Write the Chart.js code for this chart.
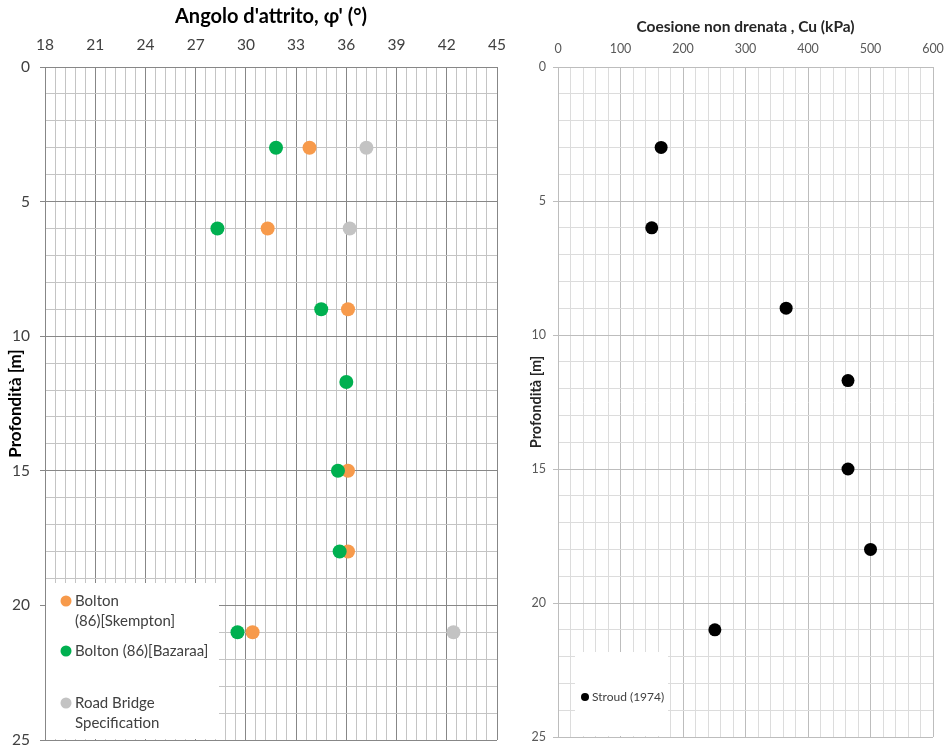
<!DOCTYPE html>
<html>
<head>
<meta charset="utf-8">
<script src="https://cdn.jsdelivr.net/npm/chart.js@4"></script>
<style>
  html, body { margin: 0; padding: 0; background: #fff; }
  #wrap { position: relative; width: 947px; height: 749px; }
  .box { position: absolute; top: 0; height: 749px; }
  #leftBox { left: 0; width: 510px; }
  #rightBox { left: 520px; width: 427px; }
</style>
</head>
<body>
<div id="wrap">
  <div class="box" id="leftBox"><canvas id="attrito"></canvas></div>
  <div class="box" id="rightBox"><canvas id="coesione"></canvas></div>
</div>
<script>
// --- data ---
const depthSkempton = [3, 6, 9, 15, 18, 21];
const phiSkempton   = [33.8, 31.3, 36.1, 36.1, 36.1, 30.4];

const depthBazaraa = [3, 6, 9, 11.7, 15, 18, 21];
const phiBazaraa   = [31.8, 28.3, 34.5, 36.0, 35.5, 35.6, 29.5];

const depthRoad = [3, 6, 21];
const phiRoad   = [37.2, 36.2, 42.4];

const depthStroud = [3, 6, 9, 11.7, 15, 18, 21];
const cuStroud    = [165, 150, 365, 464, 464, 500, 251];

const labelSkempton = ['Bolton', '(86)[Skempton]'];
const labelBazaraa  = ['Bolton (86)[Bazaraa]'];
const labelRoad     = ['Road Bridge', 'Specification'];
const labelStroud   = ['Stroud (1974)'];

const FONT = 'Lato, "Open Sans", "Noto Sans", sans-serif';

function near(v, step) {
  return Math.abs(v / step - Math.round(v / step)) < 1e-6;
}
function pts(xs, ys) {
  return xs.map((x, i) => ({ x: x, y: ys[i] }));
}

// fixed axis boxes, no extra room for the end labels
function fixX(h) {
  return s => { s.height = h; s.paddingLeft = 0; s.paddingRight = 0; };
}
function fixY(w) {
  return s => { s.width = w; s.paddingTop = 0; s.paddingBottom = 0; };
}

// white legend box drawn over the grid, like the excel one
const boxLegend = {
  id: 'boxLegend',
  afterDatasetsDraw(chart, args, opts) {
    const ctx = chart.ctx;
    const a = chart.chartArea;
    ctx.save();
    ctx.fillStyle = '#fff';
    ctx.fillRect(a.left + opts.left, opts.top, opts.width, a.bottom - opts.top - 1);
    ctx.font = opts.fontSize + 'px ' + FONT;
    ctx.textBaseline = 'middle';
    ctx.textAlign = 'left';
    opts.items.forEach(it => {
      const ds = chart.data.datasets[it.ds];
      ctx.beginPath();
      ctx.fillStyle = ds.backgroundColor;
      ctx.arc(a.left + opts.markX, it.y, opts.r, 0, Math.PI * 2);
      ctx.fill();
      ctx.fillStyle = '#404040';
      ds.label.forEach((line, j) => {
        ctx.fillText(line, a.left + opts.textX, it.y + j * opts.lineGap);
      });
    });
    ctx.restore();
  }
};

// ---------- left chart ----------
const gridLeft = (step) => ({
  color: c => near(c.tick.value, step) ? '#878787' : '#c4c4c4',
  lineWidth: 1,
});

new Chart(document.getElementById('attrito'), {
  type: 'scatter',
  data: {
    datasets: [
      { label: labelSkempton, data: pts(phiSkempton, depthSkempton), backgroundColor: '#F79A4B', pointRadius: 7, pointBorderWidth: 0, order: 1 },
      { label: labelBazaraa, data: pts(phiBazaraa, depthBazaraa), backgroundColor: '#00B050', pointRadius: 7, pointBorderWidth: 0, order: 0 },
      { label: labelRoad, data: pts(phiRoad, depthRoad), backgroundColor: '#C3C3C3', pointRadius: 7, pointBorderWidth: 0, order: 2 }
    ]
  },
  options: {
    responsive: true,
    maintainAspectRatio: false,
    animation: false,
    layout: { padding: { left: 0, top: 0, right: 13, bottom: 9 } },
    plugins: {
      legend: { display: false },
      tooltip: { enabled: false },
      boxLegend: {
        left: 1, top: 583, width: 173, fontSize: 15, markX: 21, textX: 30, r: 5.5, lineGap: 20,
        items: [{ ds: 0, y: 601 }, { ds: 1, y: 651 }, { ds: 2, y: 703 }]
      }
    },
    scales: {
      x: {
        position: 'top',
        min: 18, max: 45,
        afterFit: fixX(67),
        ticks: {
          stepSize: 0.6, autoSkip: false, maxRotation: 0, padding: 13,
          color: '#404040', font: { family: FONT, size: 15.5 },
          callback: v => near(v, 3) ? Math.round(v) : ''
        },
        grid: Object.assign(gridLeft(3), { drawTicks: false }),
        border: { color: '#878787' },
        title: {
          display: true, text: "Angolo d'attrito, φ' (°)",
          color: '#000', font: { family: FONT, size: 20, weight: 'bold' },
          padding: { top: 5, bottom: 0 }
        }
      },
      y: {
        reverse: true,
        min: 0, max: 25,
        afterFit: fixY(45),
        ticks: {
          stepSize: 1, autoSkip: false, padding: 10,
          color: '#404040', font: { family: FONT, size: 15.5 },
          callback: v => near(v, 5) ? v : ''
        },
        grid: Object.assign(gridLeft(5), {
          tickLength: 5,
          tickColor: c => near(c.tick.value, 5) ? '#878787' : 'rgba(0,0,0,0)'
        }),
        border: { color: '#878787' },
        title: {
          display: true, text: 'Profondità [m]',
          color: '#000', font: { family: FONT, size: 17, weight: 'bold' },
          padding: { top: 5, bottom: 0 }
        }
      }
    }
  },
  plugins: [boxLegend]
});

// ---------- right chart ----------
const gridRight = (step) => ({
  color: c => near(c.tick.value, step) ? '#bdbdbd' : '#dcdcdc',
  lineWidth: 1,
});

new Chart(document.getElementById('coesione'), {
  type: 'scatter',
  data: {
    datasets: [
      { label: labelStroud, data: pts(cuStroud, depthStroud), backgroundColor: '#000000', pointRadius: 6.5, pointBorderWidth: 0 }
    ]
  },
  options: {
    responsive: true,
    maintainAspectRatio: false,
    animation: false,
    layout: { padding: { left: 0, top: 0, right: 14, bottom: 12 } },
    plugins: {
      legend: { display: false },
      tooltip: { enabled: false },
      boxLegend: {
        left: 17, top: 652, width: 93, fontSize: 12, markX: 27, textX: 34, r: 4, lineGap: 14,
        items: [{ ds: 0, y: 697 }]
      }
    },
    scales: {
      x: {
        position: 'top',
        min: 0, max: 600,
        afterFit: fixX(67),
        ticks: {
          stepSize: 20, autoSkip: false, maxRotation: 0, padding: 11,
          color: '#595959', font: { family: FONT, size: 12.5 },
          callback: v => near(v, 100) ? v : ''
        },
        grid: Object.assign(gridRight(100), { drawTicks: false }),
        border: { color: '#bdbdbd' },
        title: {
          display: true, text: 'Coesione non drenata , Cu (kPa)',
          color: '#262626', font: { family: FONT, size: 15.5, weight: 'bold' },
          padding: { top: 18, bottom: 0 }
        }
      },
      y: {
        reverse: true,
        min: 0, max: 25,
        afterFit: fixY(38),
        ticks: {
          stepSize: 1, autoSkip: false, padding: 7,
          color: '#595959', font: { family: FONT, size: 12.5 },
          callback: v => near(v, 5) ? v : ''
        },
        grid: Object.assign(gridRight(5), {
          tickLength: 5,
          tickColor: c => near(c.tick.value, 5) ? '#bdbdbd' : 'rgba(0,0,0,0)'
        }),
        border: { color: '#bdbdbd' },
        title: {
          display: true, text: 'Profondità [m]',
          color: '#262626', font: { family: FONT, size: 14.5, weight: 'bold' },
          padding: { top: 8, bottom: 0 }
        }
      }
    }
  },
  plugins: [boxLegend]
});
</script>
</body>
</html>
